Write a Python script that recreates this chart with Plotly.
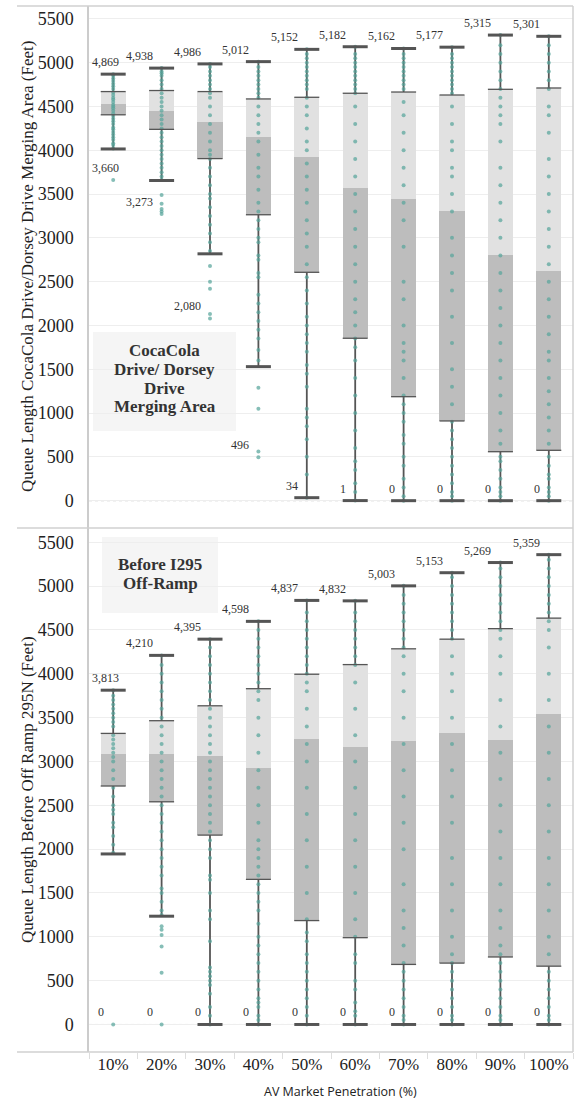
import plotly.graph_objects as go
from plotly.subplots import make_subplots

categories = ["10%", "20%", "30%", "40%", "50%", "60%", "70%", "80%", "90%", "100%"]

# Top panel: CocaCola Drive / Dorsey Drive merging area
top_upper = [4869, 4938, 4986, 5012, 5152, 5182, 5162, 5177, 5315, 5301]
top_q3 = [4670, 4682, 4670, 4586, 4605, 4651, 4665, 4631, 4696, 4711]
top_median = [4534, 4443, 4322, 4157, 3927, 3573, 3447, 3310, 2808, 2626]
top_q1 = [4405, 4239, 3905, 3264, 2607, 1854, 1187, 910, 559, 575]
top_lower = [4015, 3655, 2818, 1530, 34, 1, 0, 0, 0, 0]
top_min = [3660, 3273, 2080, 496, 34, 1, 0, 0, 0, 0]

# Bottom panel: before I295 off-ramp
bot_upper = [3813, 4210, 4395, 4598, 4837, 4832, 5003, 5153, 5269, 5359]
bot_q3 = [3320, 3465, 3635, 3830, 3995, 4105, 4285, 4395, 4515, 4635]
bot_median = [3090, 3090, 3060, 2930, 3255, 3170, 3230, 3320, 3245, 3545]
bot_q1 = [2720, 2540, 2160, 1655, 1185, 990, 685, 700, 770, 665]
bot_lower = [1945, 1235, 0, 0, 0, 0, 0, 0, 0, 0]
bot_min = [0, 0, 0, 0, 0, 0, 0, 0, 0, 0]

top_points = [
    [3660, 4020, 4060, 4080, 4120, 4150, 4180, 4210, 4240, 4260, 4300, 4330, 4360, 4390, 4420, 4450,
     4480, 4500, 4520, 4550, 4580, 4600, 4630, 4660, 4700, 4730, 4760, 4790, 4820, 4850, 4869],
    [3273, 3300, 3330, 3390, 3490, 3660, 3700, 3750, 3800, 3850, 3900, 3950, 4000, 4050, 4100,
     4150, 4200, 4250, 4300, 4350, 4400, 4450, 4500, 4550, 4600, 4650, 4700, 4750, 4800, 4850,
     4880, 4900, 4938],
    [2080, 2130, 2420, 2500, 2680, 2850, 2950, 3050, 3150, 3250, 3350, 3450, 3500, 3600, 3700, 3800,
     3900, 3950, 4000, 4100, 4200, 4300, 4400, 4500, 4600, 4650, 4700, 4750, 4800, 4850, 4900, 4950, 4986],
    [496, 560, 1050, 1290, 1600, 1720, 1850, 1950, 2050, 2150, 2250, 2350, 2550, 2600, 2750, 2800,
     2950, 3000, 3100, 3200, 3300, 3400, 3550, 3700, 3800, 3950, 4100, 4200, 4300, 4400, 4500, 4600,
     4650, 4700, 4750, 4800, 4850, 4900, 4950, 5012],
    [34, 300, 500, 700, 850, 950, 1050, 1300, 1450, 1550, 1700, 1800, 1900, 2000, 2100, 2250, 2400,
     2550, 2700, 2900, 3050, 3200, 3400, 3550, 3700, 3850, 4000, 4100, 4250, 4400, 4500, 4600, 4700,
     4750, 4800, 4850, 4900, 4950, 5000, 5050, 5100, 5152],
    [1, 100, 200, 350, 450, 600, 800, 1000, 1200, 1400, 1600, 1750, 1850, 2000, 2150, 2300, 2500,
     2700, 2900, 3100, 3300, 3500, 3700, 3900, 4100, 4300, 4500, 4650, 4700, 4750, 4800, 4850, 4900,
     4950, 5000, 5050, 5100, 5182],
    [0, 50, 150, 250, 400, 500, 650, 750, 900, 1000, 1100, 1200, 1400, 1600, 1700, 1800, 2000, 2300,
     2500, 2900, 3200, 3400, 3600, 3800, 4000, 4200, 4400, 4550, 4700, 4750, 4800, 4850, 4900, 4950,
     5000, 5050, 5100, 5162],
    [0, 50, 100, 200, 300, 400, 500, 600, 700, 800, 900, 1100, 1300, 1500, 1800, 2100, 2400, 2600,
     2800, 3000, 3300, 3500, 3700, 3800, 4000, 4100, 4300, 4500, 4650, 4700, 4750, 4800, 4850, 4900,
     4950, 5000, 5050, 5100, 5177],
    [0, 50, 100, 150, 250, 350, 450, 500, 650, 800, 1000, 1200, 1400, 1600, 1800, 2000, 2200, 2400,
     2600, 2800, 3000, 3200, 3400, 3600, 3800, 4100, 4300, 4400, 4500, 4600, 4700, 4800, 4900, 5000,
     5100, 5200, 5315],
    [0, 50, 100, 150, 250, 300, 400, 500, 650, 800, 950, 1100, 1250, 1400, 1600, 1700, 1900, 2100,
     2300, 2500, 2700, 2900, 3100, 3300, 3500, 3700, 3900, 4200, 4400, 4500, 4700, 4800, 4900, 5000,
     5100, 5200, 5301],
]
bot_points = [
    [0, 1960, 2050, 2150, 2250, 2300, 2400, 2450, 2500, 2600, 2700, 2800, 2900, 3000, 3050, 3100,
     3150, 3200, 3250, 3300, 3400, 3450, 3500, 3550, 3600, 3650, 3700, 3750, 3813],
    [0, 590, 890, 1020, 1080, 1120, 1250, 1300, 1400, 1500, 1550, 1700, 1800, 1900, 2000, 2100, 2200,
     2300, 2400, 2500, 2600, 2700, 2800, 2900, 3000, 3100, 3200, 3300, 3400, 3500, 3600, 3700, 3800,
     3900, 4000, 4100, 4210],
    [0, 100, 200, 350, 450, 500, 550, 600, 650, 950, 1200, 1300, 1500, 1650, 1700, 1900, 2000, 2100,
     2200, 2300, 2400, 2500, 2600, 2700, 2800, 2900, 3000, 3100, 3200, 3300, 3400, 3500, 3600, 3700,
     3800, 3900, 4000, 4100, 4200, 4300, 4395],
    [0, 50, 100, 200, 250, 300, 400, 500, 600, 700, 800, 900, 1000, 1150, 1300, 1400, 1500, 1600,
     1700, 1800, 1900, 2000, 2100, 2300, 2500, 2700, 2900, 3100, 3300, 3500, 3700, 3800, 3900, 4000,
     4100, 4200, 4300, 4400, 4500, 4598],
    [0, 100, 200, 300, 400, 500, 600, 700, 800, 950, 1050, 1200, 1500, 1800, 2100, 2400, 2700, 3000,
     3200, 3400, 3600, 3800, 3900, 4000, 4100, 4200, 4300, 4400, 4500, 4600, 4700, 4837],
    [0, 100, 150, 250, 400, 500, 700, 800, 1000, 1200, 1500, 1800, 2100, 2400, 2700, 3000, 3300,
     3600, 3900, 4100, 4200, 4300, 4400, 4500, 4600, 4700, 4832],
    [0, 50, 100, 200, 300, 400, 500, 600, 700, 900, 1100, 1300, 1600, 2000, 2300, 2600, 2900, 3200,
     3500, 3800, 4000, 4200, 4300, 4400, 4500, 4600, 4700, 4800, 4900, 5003],
    [0, 50, 100, 200, 300, 400, 500, 600, 700, 800, 1000, 1300, 1600, 1900, 2300, 2600, 2900, 3200,
     3500, 3800, 4000, 4200, 4400, 4500, 4600, 4700, 4800, 4900, 5000, 5100, 5153],
    [0, 50, 100, 200, 300, 400, 500, 600, 700, 800, 900, 1100, 1300, 1600, 1900, 2200, 2500, 2800,
     3100, 3400, 3700, 4000, 4200, 4400, 4500, 4600, 4700, 4800, 4900, 5000, 5100, 5200, 5269],
    [0, 50, 100, 200, 300, 400, 500, 600, 800, 1000, 1300, 1600, 1900, 2200, 2500, 2800, 3100, 3400,
     3700, 4000, 4300, 4500, 4600, 4700, 4800, 4900, 5000, 5100, 5200, 5300, 5359],
]

y_ticks = [0, 500, 1000, 1500, 2000, 2500, 3000, 3500, 4000, 4500, 5000, 5500]

top_title = "Queue Length CocaCola Drive/Dorsey Drive Merging Area (Feet)"
bot_title = "Queue Length Before Off Ramp 295N (Feet)"
x_title = "AV Market Penetration (%)"
top_box_lines = ["CocaCola", "Drive/ Dorsey", "Drive", "Merging Area"]
bot_box_lines = ["Before I295", "Off-Ramp"]

# ---------------------------------------------------------------- styling
W, H = 580, 1100
ML, MR, MT, MB = 89, 7, 6, 48
PW, PH = W - ML - MR, H - MT - MB
SPLIT_PX = 528
split = (H - MB - SPLIT_PX) / PH

LIGHT = "#e1e1e1"
DARK = "#bdbdbd"
WHISK = "#555555"
DOT = "rgba(88,165,155,0.72)"
SERIF = "Liberation Serif"
BOX_W = 0.52
CAP_SIZE = 25 / 1.4


def px_x(p):
    return (p - ML) / PW


def px_y(p):
    return (H - MB - p) / PH


fig = make_subplots(rows=2, cols=1, shared_xaxes=True, vertical_spacing=0)

panels = [
    (1, top_upper, top_q3, top_median, top_q1, top_lower, top_min, top_points, "y"),
    (2, bot_upper, bot_q3, bot_median, bot_q1, bot_lower, bot_min, bot_points, "y2"),
]

for row, up, q3, med, q1, lo, mn, pts, yref in panels:
    fig.add_trace(go.Bar(x=categories, y=[m - a for m, a in zip(med, q1)], base=q1,
                         width=BOX_W, marker=dict(color=DARK, line=dict(width=0)),
                         hoverinfo="skip", showlegend=False), row=row, col=1)
    fig.add_trace(go.Bar(x=categories, y=[b - m for b, m in zip(q3, med)], base=med,
                         width=BOX_W, marker=dict(color=LIGHT, line=dict(width=0)),
                         hoverinfo="skip", showlegend=False), row=row, col=1)
    wx, wy = [], []
    for c, a, b, d, e in zip(categories, q3, up, q1, lo):
        wx += [c, c, None, c, c, None]
        wy += [a, b, None, d, e, None]
    fig.add_trace(go.Scatter(x=wx, y=wy, mode="lines", line=dict(color=WHISK, width=1.8),
                             hoverinfo="skip", showlegend=False), row=row, col=1)
    px_, py_ = [], []
    for c, vals in zip(categories, pts):
        px_ += [c] * len(vals)
        py_ += vals
    fig.add_trace(go.Scatter(x=px_, y=py_, mode="markers",
                             marker=dict(symbol="circle", size=4, color=DOT, line=dict(width=0)),
                             showlegend=False), row=row, col=1)
    # box edges
    fig.add_trace(go.Scatter(x=categories + categories, y=q3 + q1, mode="markers",
                             marker=dict(symbol="line-ew", size=CAP_SIZE,
                                         line=dict(color=WHISK, width=1.3)),
                             hoverinfo="skip", showlegend=False), row=row, col=1)
    # whisker caps
    fig.add_trace(go.Scatter(x=categories + categories, y=up + lo, mode="markers",
                             marker=dict(symbol="line-ew", size=CAP_SIZE,
                                         line=dict(color=WHISK, width=3)),
                             hoverinfo="skip", showlegend=False), row=row, col=1)
    # value labels
    xref = "x" if row == 1 else "x2"
    for i, (c, v) in enumerate(zip(categories, up)):
        for val in (v, mn[i]):
            txt = f"{val:,}"
            center_px = ML + (i + 0.5) * PW / len(categories)
            width_est = len(txt) * 6
            if center_px - 7 - width_est < ML:
                fig.add_annotation(x=-0.5, y=val, xref=xref, yref=yref, text=txt,
                                   showarrow=False, xanchor="left", yanchor="middle",
                                   xshift=1, yshift=12,
                                   font=dict(family=SERIF, size=12, color="#333"))
            else:
                fig.add_annotation(x=c, y=val, xref=xref, yref=yref, text=txt,
                                   showarrow=False, xanchor="right", yanchor="middle",
                                   xshift=-7, yshift=12,
                                   font=dict(family=SERIF, size=12, color="#333"))
    # zero line (dotted)
    fig.add_hline(y=0, line=dict(color="white", width=2), layer="below", row=row, col=1)
    fig.add_hline(y=0, line=dict(color="#a8a8a8", width=1, dash="dot"), layer="below",
                  row=row, col=1)

axis_common = dict(tickvals=y_ticks, showgrid=True, gridcolor="#eeeeee", gridwidth=1,
                   zeroline=False, showline=True, linecolor="#cccccc", linewidth=1.5,
                   tickfont=dict(family=SERIF, size=18, color="#222"), ticks="",
                   ticklabelstandoff=10, automargin=False)
fig.update_yaxes(range=[-312, 5647], row=1, col=1, **axis_common)
fig.update_yaxes(range=[-314, 5663], row=2, col=1, **axis_common)
fig.update_xaxes(type="category", range=[-0.5, 9.5], showgrid=False, zeroline=False,
                 showline=False, tickson="boundaries", ticks="outside", ticklen=6,
                 tickcolor="#dddddd", tickwidth=1, tickangle=0, automargin=False)
fig.update_xaxes(showticklabels=False, ticks="", row=1, col=1)
fig.update_xaxes(tickfont=dict(family=SERIF, size=17, color="#222"), row=2, col=1)

fig.update_layout(yaxis=dict(domain=[split, 1]), yaxis2=dict(domain=[0, split]))

# frame lines
left_ext = px_x(17)
line_c = dict(color="#d0d0d0", width=1.5)
for yy in (1, split, 0):
    fig.add_shape(type="line", xref="paper", yref="paper", x0=left_ext, x1=1, y0=yy, y1=yy,
                  line=line_c)
fig.add_shape(type="line", xref="paper", yref="paper", x0=1, x1=1, y0=0, y1=1,
              line=dict(color="#d0d0d0", width=1.5))

# titles
fig.add_annotation(text=top_title, xref="paper", yref="paper", x=px_x(27), y=(split + 1) / 2,
                   textangle=-90, showarrow=False, xanchor="center", yanchor="middle",
                   font=dict(family=SERIF, size=17, color="#222"))
fig.add_annotation(text=bot_title, xref="paper", yref="paper", x=px_x(27), y=split / 2,
                   textangle=-90, showarrow=False, xanchor="center", yanchor="middle",
                   font=dict(family=SERIF, size=17, color="#222"))
fig.add_annotation(text=x_title, xref="paper", yref="paper", x=px_x(340), y=px_y(1091),
                   showarrow=False, xanchor="center", yanchor="middle",
                   font=dict(family="Open Sans", size=12.5, color="#222"))

# caption boxes
fig.add_shape(type="rect", xref="paper", yref="paper", x0=px_x(93), x1=px_x(236),
              y0=px_y(431), y1=px_y(332), fillcolor="#f5f5f5", line=dict(width=0),
              layer="below")
for k, t in enumerate(top_box_lines):
    fig.add_annotation(text=f"<b>{t}</b>", xref="paper", yref="paper", x=px_x(164.5),
                       y=px_y(350.7 + k * 18.7), showarrow=False, xanchor="center",
                       yanchor="middle", font=dict(family=SERIF, size=17, color="#333"))
fig.add_shape(type="rect", xref="paper", yref="paper", x0=px_x(102), x1=px_x(218),
              y0=px_y(613), y1=px_y(537), fillcolor="#f5f5f5", line=dict(width=0),
              layer="below")
for k, t in enumerate(bot_box_lines):
    fig.add_annotation(text=f"<b>{t}</b>", xref="paper", yref="paper", x=px_x(160),
                       y=px_y(564.3 + k * 19), showarrow=False, xanchor="center",
                       yanchor="middle", font=dict(family=SERIF, size=17, color="#333"))

fig.update_layout(width=W, height=H, margin=dict(l=ML, r=MR, t=MT, b=MB),
                  plot_bgcolor="white", paper_bgcolor="white", barmode="overlay",
                  bargap=0, showlegend=False, hovermode=False)

fig.write_html("out.html", config={"displayModeBar": False},
               post_script="document.body.style.margin='0';document.body.style.padding='0';")
